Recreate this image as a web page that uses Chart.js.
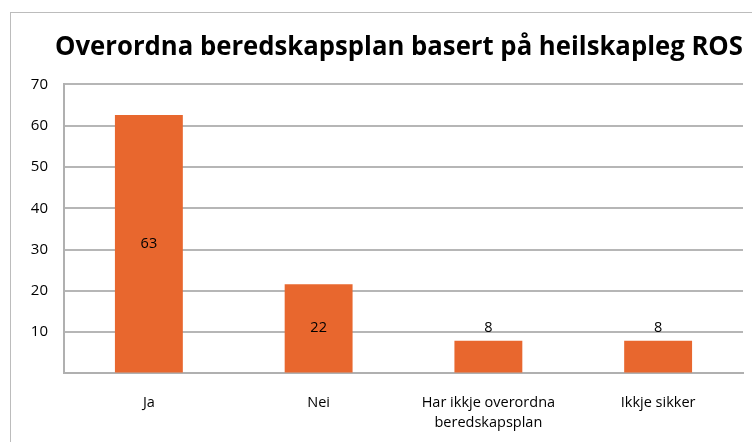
<!DOCTYPE html>
<html>
<head>
<meta charset="utf-8">
<script src="https://cdn.jsdelivr.net/npm/chart.js@4/dist/chart.umd.min.js"></script>
<style>
    html, body { margin: 0; padding: 0; background: #fff; overflow: hidden; }
    body { width: 752px; height: 442px; position: relative; }
    #frame {
        position: absolute; left: 10px; top: 12px;
        width: 780px; height: 441px;
        border-left: 1px solid #bcbcbc; border-top: 1px solid #bcbcbc;
    }
</style>
</head>
<body>
<div id="frame"><canvas id="chart" width="780" height="441"></canvas></div>
<script>
var chartTitle = 'Overordna beredskapsplan basert på heilskapleg ROS';
var categories = ['Ja', 'Nei', ['Har ikkje overordna', 'beredskapsplan'], 'Ikkje sikker'];
var values = [62.6, 21.6, 7.9, 7.9];
var valueLabels = ['63', '22', '8', '8'];
var yTicks = [0, 10, 20, 30, 40, 50, 60, 70];

var fontFamily = '"Open Sans", "Liberation Sans", sans-serif';

// draws value labels: inside the bar when it is tall, above it otherwise
var barLabels = {
    id: 'barLabels',
    afterDatasetsDraw: function (chart) {
        var ctx = chart.ctx;
        var meta = chart.getDatasetMeta(0);
        ctx.save();
        ctx.font = '14.5px ' + fontFamily;
        ctx.fillStyle = '#000';
        ctx.textAlign = 'center';
        ctx.textBaseline = 'middle';
        meta.data.forEach(function (bar, i) {
            var h = bar.base - bar.y;
            var y = h > 40 ? (bar.y + bar.base) / 2 : bar.y - 13;
            ctx.fillText(valueLabels[i], bar.x, y);
        });
        ctx.restore();
    }
};

// y axis is kept narrow (title centring), so widen its label clip area again
var widenYAxis = {
    id: 'widenYAxis',
    afterLayout: function (chart) {
        chart.scales.y.left = 0;
    }
};

var config = {
    type: 'bar',
    data: {
        labels: categories,
        datasets: [{
            data: values,
            backgroundColor: '#e8672e',
            categoryPercentage: 1,
            barPercentage: 0.4
        }]
    },
    options: {
        responsive: false,
        animation: false,
        layout: {
            // wide left padding so the title centres like the original
            padding: { left: 44, right: 48, top: 0, bottom: 2 }
        },
        plugins: {
            legend: { display: false },
            tooltip: { enabled: false },
            title: {
                display: true,
                text: chartTitle,
                color: '#000',
                font: { family: fontFamily, size: 27, weight: 'bold' },
                padding: { top: 18, bottom: 21 }
            }
        },
        scales: {
            x: {
                grid: { display: false, drawTicks: false },
                border: { display: true, color: '#b0b0b0', width: 2 },
                ticks: {
                    color: '#000',
                    font: { family: fontFamily, size: 14.5, lineHeight: 1.4 },
                    padding: 19,
                    maxRotation: 0
                }
            },
            y: {
                min: 0,
                max: 70,
                afterBuildTicks: function (axis) {
                    axis.ticks = yTicks.map(function (v) { return { value: v }; });
                },
                afterFit: function (axis) {
                    axis.width = 9;
                },
                grid: { color: '#b6b6b6', lineWidth: 2, drawTicks: false },
                border: { display: true, color: '#b0b0b0', width: 2 },
                ticks: {
                    color: '#000',
                    font: { family: fontFamily, size: 15 },
                    padding: 16,
                    callback: function (v) { return v === 0 ? '' : v; }
                }
            }
        }
    },
    plugins: [barLabels, widenYAxis]
};

new Chart(document.getElementById('chart'), config);
</script>
</body>
</html>
